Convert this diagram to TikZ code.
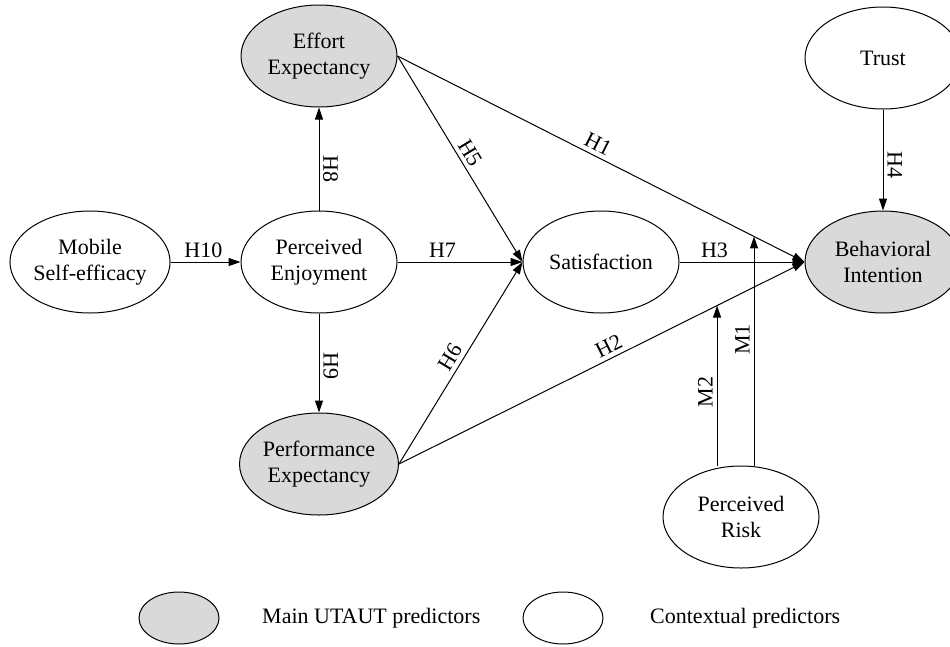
\documentclass[tikz,border=0pt]{standalone}
\usepackage{fontspec}
\setmainfont{Liberation Serif}
\usetikzlibrary{shapes.geometric,arrows.meta}

\begin{document}
\begin{tikzpicture}[x=1pt,y=-1pt,
  construct/.style={ellipse,draw,line width=1pt,minimum width=156pt,minimum height=102pt,inner sep=0pt,align=center,font=\fontsize{22}{26}\selectfont},
  hypo/.style={-{Triangle[length=12pt,width=8pt]},line width=1pt},
  hlabel/.style={sloped,above,inner sep=4pt,font=\fontsize{22}{26}\selectfont},
  keytext/.style={anchor=west,inner sep=0pt,font=\fontsize{22}{26}\selectfont}]
\definecolor{utautgray}{HTML}{D9D9D9}
\useasboundingbox (0,0) rectangle (950,646);
% constructs
\node[construct,fill=utautgray] (EE) at (319,56) {Effort\\Expectancy};
\node[construct] (TR) at (883,58) {Trust};
\node[construct] (MSE) at (90,262) {Mobile\\Self-efficacy};
\node[construct] (PE) at (319,262) {Perceived\\Enjoyment};
\node[construct] (SAT) at (601,262) {Satisfaction};
\node[construct,fill=utautgray] (BI) at (883,262) {Behavioral\\Intention};
\node[construct,fill=utautgray] (PFE) at (319,464) {Performance\\Expectancy};
\node[construct] (PR) at (741,517) {Perceived\\Risk};
% hypotheses
\foreach \from/\to/\hyp/\p in {MSE.east/PE.west/H10/0.47,PE.east/SAT.west/H7/0.36,EE.east/SAT.west/H5/0.5,PFE.east/SAT.west/H6/0.5,EE.east/BI.west/H1/0.48,PFE.east/BI.west/H2/0.53,SAT.east/BI.west/H3/0.28,PE/PFE/H9/0.53,TR/BI/H4/0.55}
  {\draw[hypo] (\from) -- (\to) node[hlabel,pos=\p] {\hyp};}
\draw[hypo] (PE) -- (EE);
\path (EE) -- (PE) node[hlabel,pos=0.6] {H8};
% moderators
\coordinate (m1) at (intersection of EE.east--BI.west and 754,0--754,600);
\coordinate (m2) at (intersection of PFE.east--BI.west and 717,0--717,600);
\draw[hypo] (PR.north -| m1) -- (m1) node[hlabel,pos=0.55] {M1};
\draw[hypo] (PR.north -| m2) -- (m2) node[hlabel,pos=0.46] {M2};
% legend
\node[construct,fill=utautgray,minimum width=80pt,minimum height=52pt] (keymain) at (179,618) {};
\node[keytext] (keymaintxt) at (262,618) {Main UTAUT predictors};
\node[construct,minimum width=80pt,minimum height=52pt] (keyctx) at (563,618) {};
\node[keytext] (keyctxtxt) at (650,618) {Contextual predictors};
\end{tikzpicture}
\end{document}
